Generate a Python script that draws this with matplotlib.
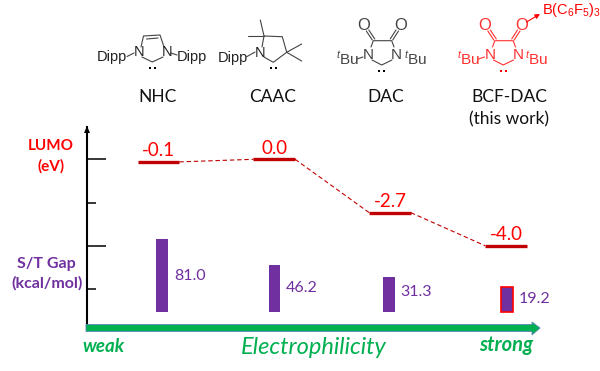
import matplotlib
matplotlib.use('Agg')
import matplotlib.pyplot as plt
from matplotlib.patches import Polygon

plt.rcParams['font.family'] = ['Lato', 'DejaVu Sans']
plt.rcParams['mathtext.fontset'] = 'custom'
plt.rcParams['mathtext.rm'] = 'Liberation Sans'
plt.rcParams['mathtext.it'] = 'Liberation Sans:italic'
plt.rcParams['mathtext.default'] = 'regular'

# values printed on the chart
categories = ['NHC', 'CAAC', 'DAC', 'BCF-DAC\n(this work)']
lumo_labels = ['-0.1', '0.0', '-2.7', '-4.0']
gap_labels = ['81.0', '46.2', '31.3', '19.2']

# heights as drawn in the picture (the source is not quite to scale)
x_pos = [0, 1, 2, 3]
lumo_levels = [-0.13, 0.0, -2.67, -4.32]
gap_x = [0.03, 1.0, 1.99, 3.01]
gap_heights = [73, 47, 35, 24.5]
tick_major = [0, -4.35]
tick_minor = [-2.17, -6.5]

RED = '#FF0000'
DARK_RED = '#C00000'
PURPLE = '#7030A0'
GREEN = '#00B050'
GREY = '#444444'

W, H = 600, 371
fig = plt.figure(figsize=(W / 100, H / 100), dpi=100, facecolor='white')

# plot area, placed in pixels
left, right, top, bottom = 87, 540, 127, 328
ax = fig.add_axes([left / W, 1 - bottom / H, (right - left) / W, (bottom - top) / H])
ax.patch.set_alpha(0)
ax.set_xlim((left - 158.5) / 115.8, (right - 158.5) / 115.8)
ax.set_ylim(-(bottom - 159.3) / 20, (159.3 - top) / 20)
for s in ['top', 'right', 'bottom']:
    ax.spines[s].set_visible(False)
ax.spines['left'].set_linewidth(1.5)
ax.set_xticks([])
ax.set_yticks(tick_major)
ax.set_yticks(tick_minor, minor=True)
ax.tick_params(axis='y', which='major', direction='in', length=14, width=1.1, labelleft=False)
ax.tick_params(axis='y', which='minor', direction='in', length=6.5, width=1.1, labelleft=False)

# second scale for the S/T gap bars, 1 unit = 1 pixel
ax_gap = ax.twinx()
ax_gap.patch.set_alpha(0)
ax_gap.set_ylim(-(bottom - 311.5), 311.5 - top)
ax_gap.axis('off')

half = 0.18
for i in range(len(x_pos) - 1):
    ax.plot([x_pos[i] + half, x_pos[i + 1] - half], [lumo_levels[i], lumo_levels[i + 1]],
            color=DARK_RED, lw=0.8, ls=(0, (4, 2.5)))
for x, y, lab in zip(x_pos, lumo_levels, lumo_labels):
    ax.plot([x - half, x + half], [y, y], color=DARK_RED, lw=2.4, solid_capstyle='butt')
    ax.annotate(lab, (x, y), xytext=(0, 2), textcoords='offset points', ha='center', va='bottom',
                color=RED, fontsize=13.5)

edge = [PURPLE, PURPLE, PURPLE, RED]
ax_gap.bar(gap_x, gap_heights, width=0.1, color=PURPLE, edgecolor=edge, linewidth=[0, 0, 0, 1.2])
label_y = [-27, -17, -11, -8.6]
for x, h, lab, dy in zip(gap_x, gap_heights, gap_labels, label_y):
    ax_gap.annotate(lab, (x, h), xytext=(8.5, dy), textcoords='offset points', ha='left', va='center',
                    color=PURPLE, fontsize=11.5)

# everything else goes on an overlay in pixel coordinates
ov = fig.add_axes([0, 0, 1, 1])
ov.set_xlim(0, W)
ov.set_ylim(H, 0)
ov.axis('off')
ov.patch.set_alpha(0)

# y axis arrow head and green x axis arrow
ov.add_patch(Polygon([(87, 126), (84, 133), (90, 133)], closed=True, color='black', lw=0))
ov.add_patch(Polygon([(86, 324.5), (532, 324.5), (532, 322), (540, 328), (532, 335), (532, 331.5), (86, 331.5)],
                     closed=True, facecolor=GREEN, edgecolor='#5B86B8', lw=0.6))

ov.text(51, 146, 'LUMO', color=RED, fontsize=11, fontweight='bold', ha='center', va='center')
ov.text(51, 166, '(eV)', color=RED, fontsize=11, fontweight='bold', ha='center', va='center')
ov.text(46, 264, 'S/T Gap', color=PURPLE, fontsize=11.5, fontweight='bold', ha='center', va='center')
ov.text(47, 283, '(kcal/mol)', color=PURPLE, fontsize=11.5, fontweight='bold', ha='center', va='center')

ov.text(103, 346, 'weak', color=GREEN, fontsize=13.5, fontweight='bold', style='italic', ha='center', va='center')
ov.text(314, 347, 'Electrophilicity', color=GREEN, fontsize=17, style='italic', ha='center', va='center')
ov.text(506, 345, 'strong', color=GREEN, fontsize=14.5, fontweight='bold', style='italic', ha='center', va='center')

ov.text(158, 97, categories[0], fontsize=12.5, ha='center', va='center', color='#111111')
ov.text(273, 97, categories[1], fontsize=12.5, ha='center', va='center', color='#111111')
ov.text(386, 97, categories[2], fontsize=12.5, ha='center', va='center', color='#111111')
ov.text(509, 108.5, categories[3], fontsize=12.5, ha='center', va='center', color='#111111', linespacing=1.5)


def bond(pts, c=GREY, lw=0.8):
    ov.plot([p[0] for p in pts], [p[1] for p in pts], color=c, lw=lw, solid_capstyle='round')


def label(x, y, s, c='#222222', size=10, ha='center'):
    ov.text(x, y, s, color=c, fontsize=size, ha=ha, va='center', family=['Liberation Sans'])


def lone_pair(x, y, c='black'):
    ov.plot([x - 2.5, x + 2.5], [y, y], ls='none', marker='s', ms=1.7, color=c, mew=0)


# NHC
bond([(141, 47), (143.5, 36), (160, 35), (164, 47)])
bond([(146.5, 39), (158, 38)])
bond([(142, 57), (152.3, 62), (163, 57)])
bond([(127, 56.5), (134, 53)])
bond([(171, 53), (177, 55)])
label(138.7, 52, 'N', size=10.5)
label(166.7, 52, 'N', size=10.5)
label(112, 57.5, 'Dipp', size=10.5)
label(191.5, 57.5, 'Dipp', size=10.5)
lone_pair(152.3, 67.7)

# CAAC
bond([(262, 47), (264, 36), (282.3, 36.7), (286.7, 52.3), (273.3, 62.3), (264, 57)])
bond([(264, 36), (260.3, 20)])
bond([(264, 36), (248.3, 36)])
bond([(286.7, 52.3), (301.7, 44)])
bond([(286.7, 52.3), (301.7, 61)])
bond([(246.7, 56.7), (255, 52)])
label(260, 52.7, 'N', size=10.5)
label(233, 58, 'Dipp', size=10.5)
lone_pair(273.3, 68.3)


def diamide(dx, c, dot_c):
    # shared five ring of DAC and BCF-DAC, dx shifts it along x
    bond([(371 + dx, 47), (373.3 + dx, 40.7), (391.7 + dx, 40.7), (394 + dx, 47)], c)
    bond([(372 + dx, 60), (381.7 + dx, 65), (392 + dx, 60)], c)
    bond([(372.3 + dx, 40), (366.3 + dx, 31)], c)
    bond([(374.8 + dx, 39), (368.8 + dx, 30)], c)
    bond([(392.7 + dx, 40), (398.5 + dx, 31)], c)
    bond([(390.2 + dx, 39), (396 + dx, 30)], c)
    bond([(357 + dx, 59), (363 + dx, 57)], c)
    label(368.3 + dx, 55, 'N', c, 11)
    label(396.7 + dx, 55, 'N', c, 11)
    label(363.3 + dx, 25, 'O', c, 12)
    label(400.3 + dx, 25, 'O', c, 12)
    label(335.5 + dx, 59, r'$^{\mathit{t}}$Bu', c, 11, ha='left')
    label(403.5 + dx, 59, r'$^{\mathit{t}}$Bu', c, 11, ha='left')
    lone_pair(381.7 + dx, 71, dot_c)


diamide(0, GREY, 'black')
diamide(121.5, '#FF3030', RED)

# BCF arrow
ov.annotate('', xy=(540, 14), xytext=(526.5, 22),
            arrowprops=dict(arrowstyle='-|>', color=RED, lw=0.8, mutation_scale=7, shrinkA=0, shrinkB=0))
label(542.5, 10, r'B(C$_6$F$_5$)$_3$', RED, 10.5, ha='left')

fig.savefig('out.png', dpi=100)
